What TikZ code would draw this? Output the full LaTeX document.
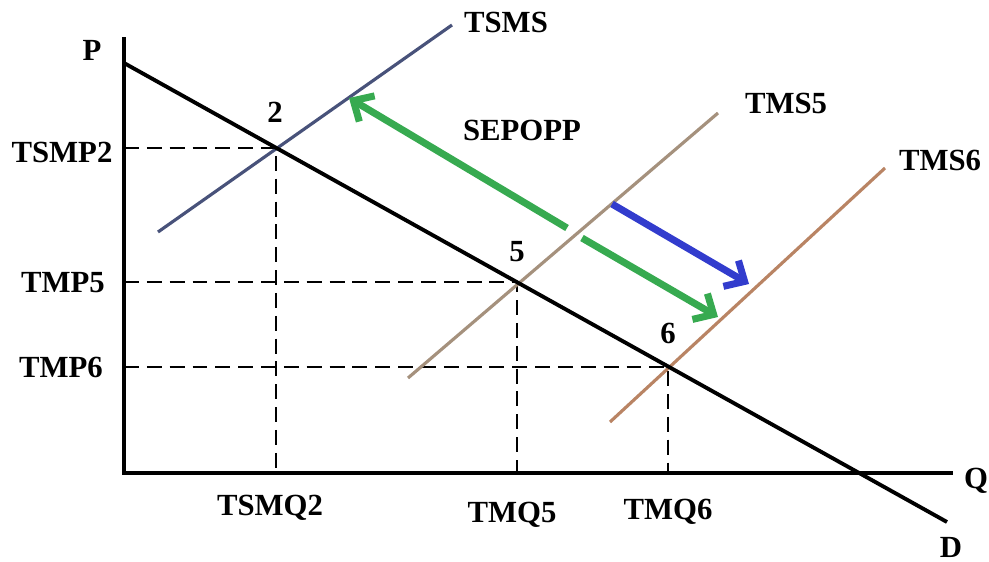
\documentclass[tikz,border=0pt]{standalone}
\usepackage{fontspec}
\setmainfont{Liberation Serif}
\usetikzlibrary{arrows.meta}

\definecolor{tsmsblue}{RGB}{72,82,122}
\definecolor{tmsfive}{RGB}{165,145,125}
\definecolor{tmssix}{RGB}{185,132,100}
\definecolor{shiftgreen}{RGB}{55,170,80}
\definecolor{shiftblue}{RGB}{50,60,205}

\begin{document}
\begin{tikzpicture}[
    x=0.02cm, y=-0.02cm,
    axisline/.style={black, line width=2.2pt},
    demand/.style={black, line width=2.2pt},
    supply/.style={line width=1.8pt},
    guide/.style={black, line width=1.1pt, dash pattern=on 8.5pt off 4.5pt},
    shiftarrow/.style={line width=4pt, -{Straight Barb[length=9pt,width=17pt]}},
    lbl/.style={font=\fontsize{17.5}{20}\selectfont\bfseries, inner sep=1pt}
]
\useasboundingbox (0,0) rectangle (989,561);

% ---------- key points ----------
\coordinate (O) at (124,473);
\coordinate (Ptop) at (124,37);
\coordinate (Qend) at (953,473);
\coordinate (Dtop) at (124,63);
\coordinate (Dend) at (947,522);
\coordinate (E2) at (276,148);
\coordinate (E5) at (517,282);
\coordinate (E6) at (668,367);

% ---------- axes ----------
\draw[axisline] (Ptop) -- (O) -- (Qend);

% ---------- guides to the equilibria ----------
\foreach \e in {E2,E5,E6}
  \draw[guide] (O |- \e) -- (\e) -- (\e |- O);

% ---------- supply curves ----------
\draw[supply, tsmsblue] (158,232) -- (452,25);
\draw[supply, tmsfive] (408,378) -- (718,113);
\draw[supply, tmssix] (610,422) -- (885,168);

% ---------- demand ----------
\draw[demand] (Dtop) -- (Dend);

% ---------- shifts ----------
\coordinate (g0) at (567,228);
\coordinate (g1) at (349,98);
\coordinate (g2) at (582,238);
\coordinate (g3) at (718,317);
\coordinate (b0) at (612,204);
\coordinate (b1) at (749,284);
\draw[shiftarrow, shiftgreen] (g0) -- (g1);
\draw[shiftarrow, shiftgreen] (g2) -- (g3);
\draw[shiftarrow, shiftblue] (b0) -- (b1);

% ---------- labels ----------
\node[lbl] (lP) at (92,50) {P};
\node[lbl] (lQ) at (976,481) {Q};
\node[lbl] (lD) at (951,547) {D};
\node[lbl] (lTSMS) at (506,22) {TSMS};
\node[lbl] (lTMS5) at (786,103) {TMS5};
\node[lbl] (lTMS6) at (940,160) {TMS6};
\node[lbl] (lSEP) at (522,130) {SEPOPP};
\node[lbl] (l2) at (275,112) {2};
\node[lbl] (l5) at (517,252) {5};
\node[lbl] (l6) at (668,333) {6};
\node[lbl] (lTSMP2) at (62,152) {TSMP2};
\node[lbl] (lTMP5) at (63,283) {TMP5};
\node[lbl] (lTMP6) at (61,367) {TMP6};
\node[lbl] (lTSMQ2) at (270,508) {TSMQ2};
\node[lbl] (lTMQ5) at (512,515) {TMQ5};
\node[lbl] (lTMQ6) at (668,512) {TMQ6};

\end{tikzpicture}
\end{document}
